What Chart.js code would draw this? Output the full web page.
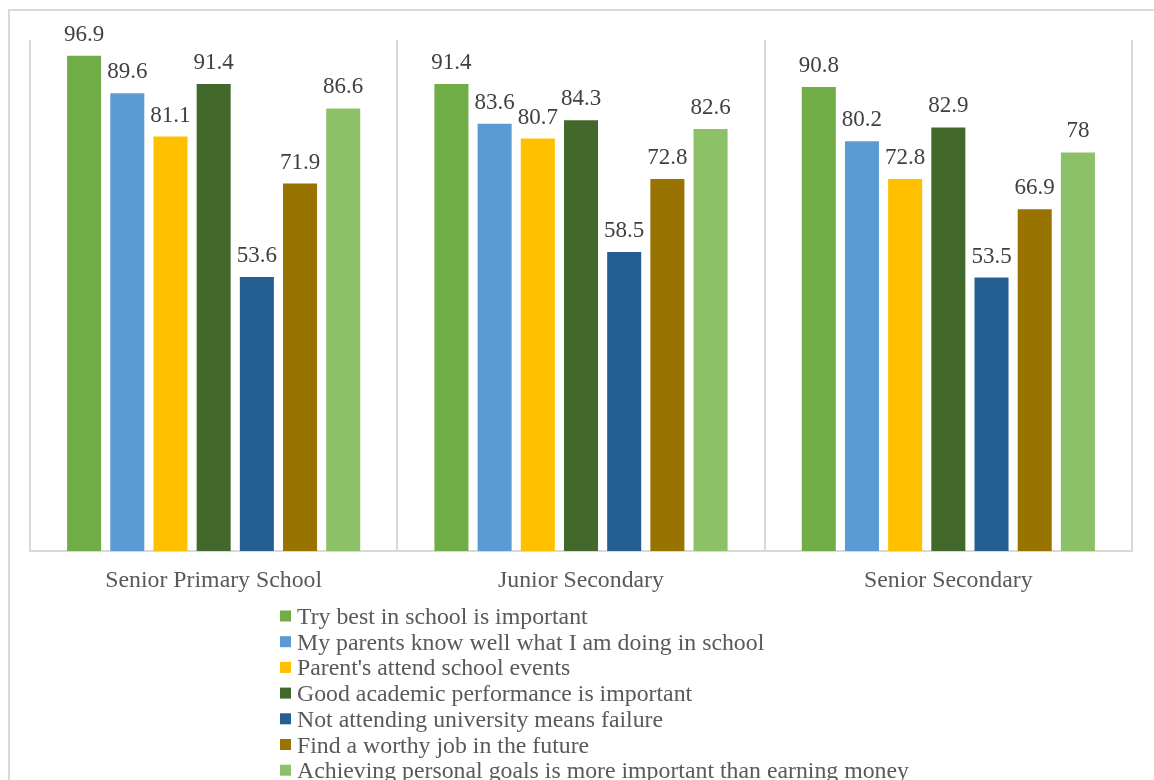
<!DOCTYPE html>
<html>
<head>
<meta charset="utf-8">
<script src="https://cdn.jsdelivr.net/npm/chart.js@4/dist/chart.umd.min.js"></script>
<style>
  html, body { margin: 0; padding: 0; background: #ffffff; }
  #wrap { width: 1154px; height: 780px; position: relative; }
</style>
</head>
<body>
<div id="wrap"><canvas id="c" width="1154" height="780"></canvas></div>
<script>
const categories = ["Senior Primary School", "Junior Secondary", "Senior Secondary"];
const seriesNames = [
  "Try best in school is important",
  "My parents know well what I am doing in school",
  "Parent's attend school events",
  "Good academic performance is important",
  "Not attending university means failure",
  "Find a worthy job in the future",
  "Achieving personal goals is more important than earning money"
];
const tryBest = [96.9, 91.4, 90.8];
const parentsKnow = [89.6, 83.6, 80.2];
const parentsAttend = [81.1, 80.7, 72.8];
const goodAcademic = [91.4, 84.3, 82.9];
const notUniversity = [53.6, 58.5, 53.5];
const worthyJob = [71.9, 72.8, 66.9];
const personalGoals = [86.6, 82.6, 78];
const seriesColors = ["#70AD47", "#5B9BD5", "#FFC000", "#43682B", "#255E91", "#997300", "#8CC168"];
const seriesValues = [tryBest, parentsKnow, parentsAttend, goodAcademic, notUniversity, worthyJob, personalGoals];

const FONT = "'Liberation Serif', 'Times New Roman', serif";

const datasets = seriesNames.map((name, i) => ({
  label: name,
  data: seriesValues[i],
  backgroundColor: seriesColors[i],
  borderWidth: 0,
  categoryPercentage: 0.823,
  barPercentage: 0.788
}));

const framePlugin = {
  id: 'frame',
  beforeDraw(chart) {
    const ctx = chart.ctx;
    ctx.save();
    ctx.strokeStyle = '#d9d9d9';
    ctx.lineWidth = 2;
    ctx.beginPath();
    ctx.moveTo(9, 780);
    ctx.lineTo(9, 10);
    ctx.lineTo(1154, 10);
    ctx.stroke();
    ctx.restore();
  }
};

const labelPlugin = {
  id: 'barLabels',
  afterDatasetsDraw(chart) {
    const ctx = chart.ctx;
    ctx.save();
    ctx.font = '23px ' + FONT;
    ctx.fillStyle = '#404040';
    ctx.textAlign = 'center';
    ctx.textBaseline = 'alphabetic';
    chart.data.datasets.forEach((ds, di) => {
      const meta = chart.getDatasetMeta(di);
      meta.data.forEach((bar, idx) => {
        ctx.fillText(String(ds.data[idx]), bar.x, bar.y - 15);
      });
    });
    ctx.restore();
  }
};

const legendPlugin = {
  id: 'vertLegend',
  afterDraw(chart) {
    const ctx = chart.ctx;
    ctx.save();
    ctx.font = '23.8px ' + FONT;
    ctx.textAlign = 'left';
    ctx.textBaseline = 'alphabetic';
    chart.data.datasets.forEach((ds, i) => {
      const cy = 616 + i * 25.7;
      ctx.fillStyle = ds.backgroundColor;
      ctx.fillRect(280, cy - 5.5, 11, 11);
      ctx.fillStyle = '#595959';
      ctx.fillText(ds.label, 297, cy + 8);
    });
    ctx.restore();
  }
};

new Chart(document.getElementById('c'), {
  type: 'bar',
  data: { labels: categories, datasets: datasets },
  options: {
    responsive: false,
    animation: false,
    devicePixelRatio: 1,
    layout: { padding: { left: 30, right: 22, top: 40, bottom: 0 } },
    plugins: { legend: { display: false }, tooltip: { enabled: false } },
    scales: {
      x: {
        grid: { display: true, offset: true, color: '#d9d9d9', lineWidth: 2, drawTicks: false },
        border: { display: true, color: '#d9d9d9', width: 2 },
        ticks: { color: '#595959', font: { family: FONT, size: 23.8 }, padding: 15 },
        afterFit(scale) { scale.height = 780 - 551; }
      },
      y: { display: false, min: 0, max: 100 }
    }
  },
  plugins: [framePlugin, labelPlugin, legendPlugin]
});
</script>
</body>
</html>
